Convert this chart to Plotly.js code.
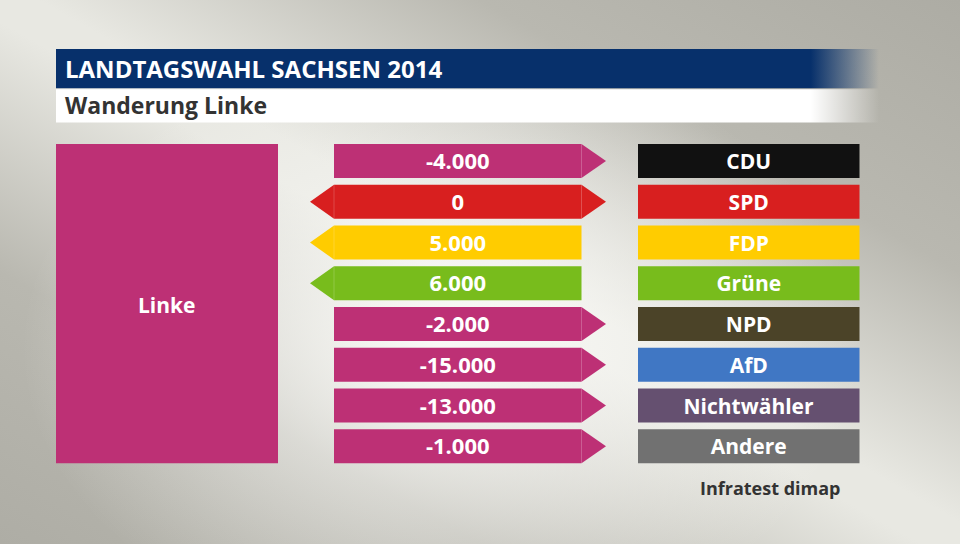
<!DOCTYPE html>
<html>
<head>
<meta charset="utf-8">
<script src="https://cdn.plot.ly/plotly-3.0.1.min.js"></script>
<style>
  html, body { margin: 0; padding: 0; }
  #chart {
    width: 960px; height: 544px;
    background:
      radial-gradient(ellipse 420px 300px at 46% 64%, rgba(250,250,247,0.97) 0%, rgba(250,250,247,0) 100%),
      linear-gradient(to top right, #aeada5 0%, #b9b8b0 25%, #e8e8e2 48%, #e8e8e2 52%, #b9b8b0 75%, #adaca4 100%);
  }
</style>
</head>
<body>
<div id="chart"></div>
<script>
// ---- data ----
const parties = ['CDU', 'SPD', 'FDP', 'Grüne', 'NPD', 'AfD', 'Nichtwähler', 'Andere'];
const values = [-4000, 0, 5000, 6000, -2000, -15000, -13000, -1000];
const partyColors = ['#111111', '#d81f1f', '#ffcc00', '#78bc1c', '#4b4328', '#4077c4', '#655070', '#717171'];
const mainParty = 'Linke';
const mainColor = '#bd3075';
const titleText = 'LANDTAGSWAHL SACHSEN 2014';
const subtitleText = 'Wanderung Linke';
const sourceText = 'Infratest dimap';

// ---- layout helpers ----
const FONT = '"Open Sans", "DejaVu Sans", sans-serif';
const rowTop0 = 144, rowPitch = 40.76, rowH = 34;
const bodyL = 334, bodyR = 581.5, tipR = 606, tipL = 310;
const boxL = 638, boxR = 859.5;

function fmt(v) {
  const s = Math.abs(v).toString().replace(/\B(?=(\d{3})+(?!\d))/g, '.');
  return (v < 0 ? '-' : '') + s;
}

const rowCenter = parties.map((p, i) => rowTop0 + i * rowPitch + rowH / 2);

const traces = [];

// title bars with fading right end
function fadeBar(y0, y1, color, transparent) {
  return {
    type: 'scatter', mode: 'lines',
    x: [56, 879, 879, 56, 56], y: [y0, y0, y1, y1, y0],
    fill: 'toself', line: { width: 0 },
    fillgradient: {
      type: 'horizontal',
      colorscale: [[0, color], [0.917, color], [1, transparent]]
    },
    hoverinfo: 'skip', showlegend: false
  };
}
traces.push(fadeBar(49, 88.3, '#07306b', 'rgba(7,48,107,0)'));
traces.push(fadeBar(89.2, 122.5, '#ffffff', 'rgba(255,255,255,0)'));

// arrows
const seamShapes = [];
values.forEach((v, i) => {
  const t = rowTop0 + i * rowPitch, b = t + rowH, c = rowCenter[i];
  const right = v <= 0, left = v >= 0;
  const xs = [], ys = [];
  xs.push(bodyL); ys.push(t);
  xs.push(bodyR); ys.push(t);
  if (right) { xs.push(tipR); ys.push(c); }
  xs.push(bodyR); ys.push(b);
  xs.push(bodyL); ys.push(b);
  if (left) { xs.push(tipL); ys.push(c); }
  xs.push(bodyL); ys.push(t);
  const col = v < 0 ? mainColor : partyColors[i];
  traces.push({
    type: 'scatter', mode: 'lines', x: xs, y: ys,
    fill: 'toself', fillcolor: col, line: { width: 0, color: col },
    hoverinfo: 'skip', showlegend: false
  });
  if (right) {
    seamShapes.push({ type: 'line', xref: 'x', yref: 'y', x0: bodyR, x1: bodyR, y0: t, y1: b,
      line: { color: 'rgba(255,255,255,0.22)', width: 1 }, layer: 'above' });
  }
  if (left) {
    seamShapes.push({ type: 'line', xref: 'x', yref: 'y', x0: bodyL, x1: bodyL, y0: t, y1: b,
      line: { color: 'rgba(255,255,255,0.18)', width: 1 }, layer: 'above' });
  }
});

// arrow value labels
traces.push({
  type: 'scatter', mode: 'text',
  x: values.map(() => (bodyL + bodyR) / 2), y: rowCenter.map(c => c + 2.5),
  text: values.map(fmt),
  textfont: { family: FONT, size: 22, color: '#ffffff', weight: 'bold' },
  hoverinfo: 'skip', showlegend: false
});

// party boxes
traces.push({
  type: 'bar', orientation: 'h',
  y: rowCenter, x: parties.map(() => boxR - boxL), base: boxL, width: rowH,
  marker: { color: partyColors, line: { width: 0 } },
  text: parties, textposition: 'inside', insidetextanchor: 'middle', textangle: 0,
  constraintext: 'none',
  textfont: { family: FONT, size: 21, color: '#ffffff', weight: 'bold' },
  hoverinfo: 'skip', showlegend: false
});

const layout = {
  width: 960, height: 544,
  margin: { l: 0, r: 0, t: 0, b: 0 },
  paper_bgcolor: 'rgba(0,0,0,0)', plot_bgcolor: 'rgba(0,0,0,0)',
  xaxis: { range: [0, 960], visible: false, fixedrange: true },
  yaxis: { range: [544, 0], visible: false, fixedrange: true },
  showlegend: false,
  shapes: [
    { type: 'rect', xref: 'x', yref: 'y', x0: 56, x1: 278, y0: rowTop0, y1: rowTop0 + 7 * rowPitch + rowH,
      fillcolor: mainColor, line: { width: 0 }, layer: 'below' }
  ].concat(seamShapes),
  annotations: [
    { x: 63, y: 68.5, xref: 'x', yref: 'y', xanchor: 'left', yanchor: 'middle', showarrow: false,
      text: titleText, font: { family: FONT, size: 24, color: '#ffffff', weight: 'bold' } },
    { x: 63, y: 105, xref: 'x', yref: 'y', xanchor: 'left', yanchor: 'middle', showarrow: false,
      text: subtitleText, font: { family: FONT, size: 23, color: '#333333', weight: 'bold' } },
    { x: 167, y: 305, xref: 'x', yref: 'y', xanchor: 'center', yanchor: 'middle', showarrow: false,
      text: mainParty, font: { family: FONT, size: 21, color: '#ffffff', weight: 'bold' } },
    { x: 770, y: 488, xref: 'x', yref: 'y', xanchor: 'center', yanchor: 'middle', showarrow: false,
      text: sourceText, font: { family: FONT, size: 18, color: '#333333', weight: 'bold' } }
  ]
};

Plotly.newPlot('chart', traces, layout, { staticPlot: true, displayModeBar: false });
</script>
</body>
</html>
